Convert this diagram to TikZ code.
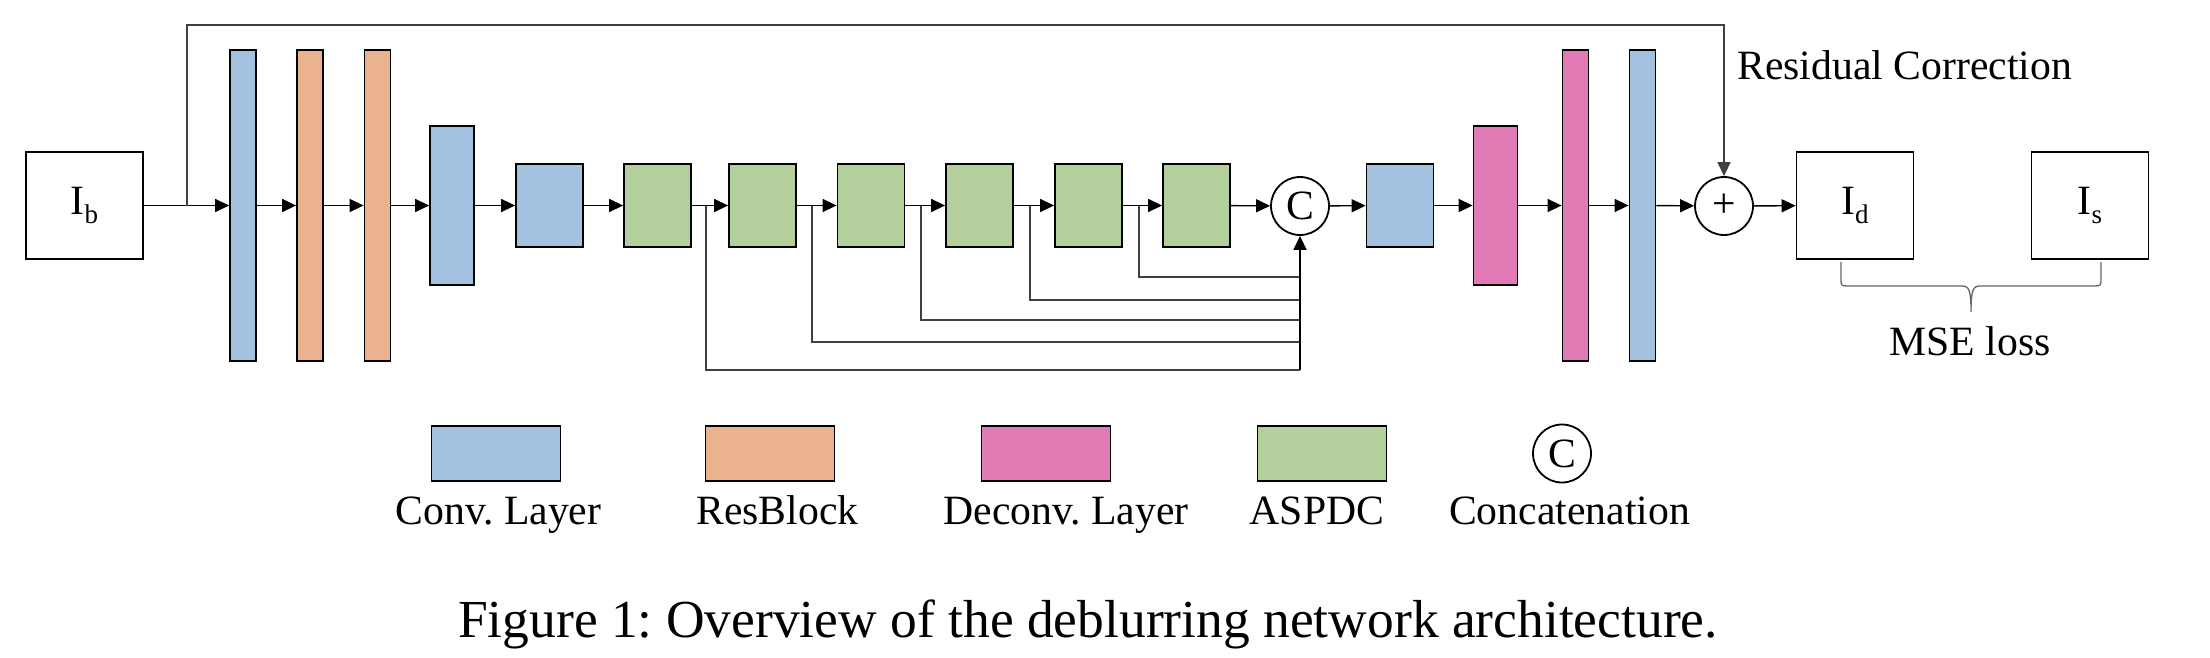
\documentclass[tikz,border=0pt]{standalone}
\usepackage{fontspec}
\setmainfont{Liberation Serif}
\usetikzlibrary{arrows.meta,calc}
\definecolor{convc}{HTML}{A4C2E0}
\definecolor{resc}{HTML}{EAB38E}
\definecolor{deconvc}{HTML}{E27AB6}
\definecolor{aspdcc}{HTML}{B3CF9C}
\newcommand\lbl{\fontsize{41.7}{48}\selectfont}
\newcommand\subs[1]{\raisebox{-9pt}{\fontsize{27}{27}\selectfont #1}}
\frenchspacing
\begin{document}
\frenchspacing
\begin{tikzpicture}[x=1pt,y=1pt,
  box/.style={draw=black, line width=1.8pt, inner sep=0pt},
  conv/.style={box, fill=convc},
  resb/.style={box, fill=resc},
  dconv/.style={box, fill=deconvc},
  aspdc/.style={box, fill=aspdcc},
  img/.style={box, fill=white, minimum width=117pt, minimum height=107pt, font=\lbl},
  tallbar/.style={minimum width=26pt, minimum height=311pt},
  midbar/.style={minimum width=44pt, minimum height=159pt},
  sq/.style={minimum width=67pt, minimum height=83pt},
  op/.style={circle, draw=black, line width=1.8pt, fill=white, minimum size=58pt, inner sep=0pt, font=\lbl},
  arr/.style={-{Triangle[length=14pt,width=13pt]}, line width=1.4pt},
  skipline/.style={line width=1.4pt, draw=black!75},
  leg/.style={minimum width=129pt, minimum height=55pt},
  txt/.style={font=\lbl, inner sep=0pt},
  bracel/.style={line width=1.3pt, draw=black!60},
]
\path[use as bounding box] (0,0) rectangle (2210,-658);

% main chain
\node[img] (Ib) at (84.5,-205.5) {I\subs{b}};
\node[conv, tallbar] (B1) at (243,-205.5) {};
\node[resb, tallbar] (O1) at (310,-205.5) {};
\node[resb, tallbar] (O2) at (377.5,-205.5) {};
\node[conv, midbar] (B2) at (452,-205.5) {};
\node[conv, sq] (B3) at (549.5,-205.5) {};
\node[aspdc, sq] (G1) at (657.5,-205.5) {};
\node[aspdc, sq] (G2) at (762.5,-205.5) {};
\node[aspdc, sq] (G3) at (871,-205.5) {};
\node[aspdc, sq] (G4) at (979.5,-205.5) {};
\node[aspdc, sq] (G5) at (1088.5,-205.5) {};
\node[aspdc, sq] (G6) at (1196.5,-205.5) {};
\node[op] (C) at (1300,-206) {C};
\node[conv, sq] (B4) at (1400,-205.5) {};
\node[dconv, midbar] (P1) at (1495.5,-205.5) {};
\node[dconv, tallbar] (P2) at (1575.5,-205.5) {};
\node[conv, tallbar] (B5) at (1642.5,-205.5) {};
\node[op] (Plus) at (1724,-206) {+};
\node[img] (Id) at (1855,-205.5) {I\subs{d}};
\node[img] (Is) at (2090,-205.5) {I\subs{s}};

% main arrows
\draw[arr] (Ib) -- (B1);
\draw[arr] (B1) -- (O1);
\draw[arr] (O1) -- (O2);
\draw[arr] (O2) -- (B2);
\draw[arr] (B2) -- (B3);
\draw[arr] (B3) -- (G1);
\draw[arr] (G1) -- (G2);
\draw[arr] (G2) -- (G3);
\draw[arr] (G3) -- (G4);
\draw[arr] (G4) -- (G5);
\draw[arr] (G5) -- (G6);
\draw[arr] (G6) -- (C);
\draw[arr] (C) -- (B4);
\draw[arr] (B4) -- (P1);
\draw[arr] (P1) -- (P2);
\draw[arr] (P2) -- (B5);
\draw[arr] (B5) -- (Plus);
\draw[arr] (Plus) -- (Id);

% residual correction
\coordinate (r0) at (187,-205.5);
\coordinate (rt) at (1724,-25);
\draw[arr, draw=black!75] (r0) |- (rt) -- (Plus.north);
\node[txt, anchor=base west] (rc) at (1737,-80) {Residual Correction};

% dense skip connections
\coordinate (j1) at (706,-205.5);
\coordinate (j2) at (812,-205.5);
\coordinate (j3) at (921,-205.5);
\coordinate (j4) at (1030,-205.5);
\coordinate (j5) at (1139,-205.5);
\coordinate (k1) at (1300,-370);
\coordinate (k2) at (1300,-342);
\coordinate (k3) at (1300,-320);
\coordinate (k4) at (1300,-300);
\coordinate (k5) at (1300,-277);
\draw[skipline] (j1) |- (k1);
\draw[skipline] (j2) |- (k2);
\draw[skipline] (j3) |- (k3);
\draw[skipline] (j4) |- (k4);
\draw[skipline] (j5) |- (k5);
\draw[arr] (k1) -- (C.south);

% MSE brace
\coordinate (bl) at ($(Id.south)+(-14,-2)$);
\coordinate (br) at ($(Is.south)+(11,-2)$);
\draw[bracel] (bl) -- ++(0,-19) .. controls +(0,-4) and +(-4,0) .. ++(5,-5)
  -- (1962,-286) .. controls (1969,-286) and (1971,-290) .. (1971,-312)
  .. controls (1971,-290) and (1973,-286) .. (1980,-286)
  -- ($(br)+(-5,-24)$) .. controls +(4,0) and +(0,-4) .. ($(br)+(0,-19)$) -- (br);
\node[txt, anchor=base] (mse) at (1970,-355) {MSE loss};

% legend
\node[conv, leg] (L1) at (496,-453.5) {};
\node[resb, leg] (L2) at (770,-453.5) {};
\node[dconv, leg] (L3) at (1046,-453.5) {};
\node[aspdc, leg] (L4) at (1322,-453.5) {};
\node[op] (L5) at (1562,-453.5) {C};
\node[txt, anchor=base] (T1) at (498.5,-524) {Conv. Layer};
\node[txt, anchor=base] (T2) at (777.5,-524) {ResBlock};
\node[txt, anchor=base] (T3) at (1066,-524) {Deconv. Layer};
\node[txt, anchor=base] (T4) at (1317,-524) {ASPDC};
\node[txt, anchor=base] (T5) at (1569.5,-524) {Concatenation};

% caption
\node[font=\fontsize{53.5}{60}\selectfont, inner sep=0pt, anchor=base] (cap) at (1088,-637) {Figure 1: Overview of the deblurring network architecture.};
\end{tikzpicture}
\end{document}
